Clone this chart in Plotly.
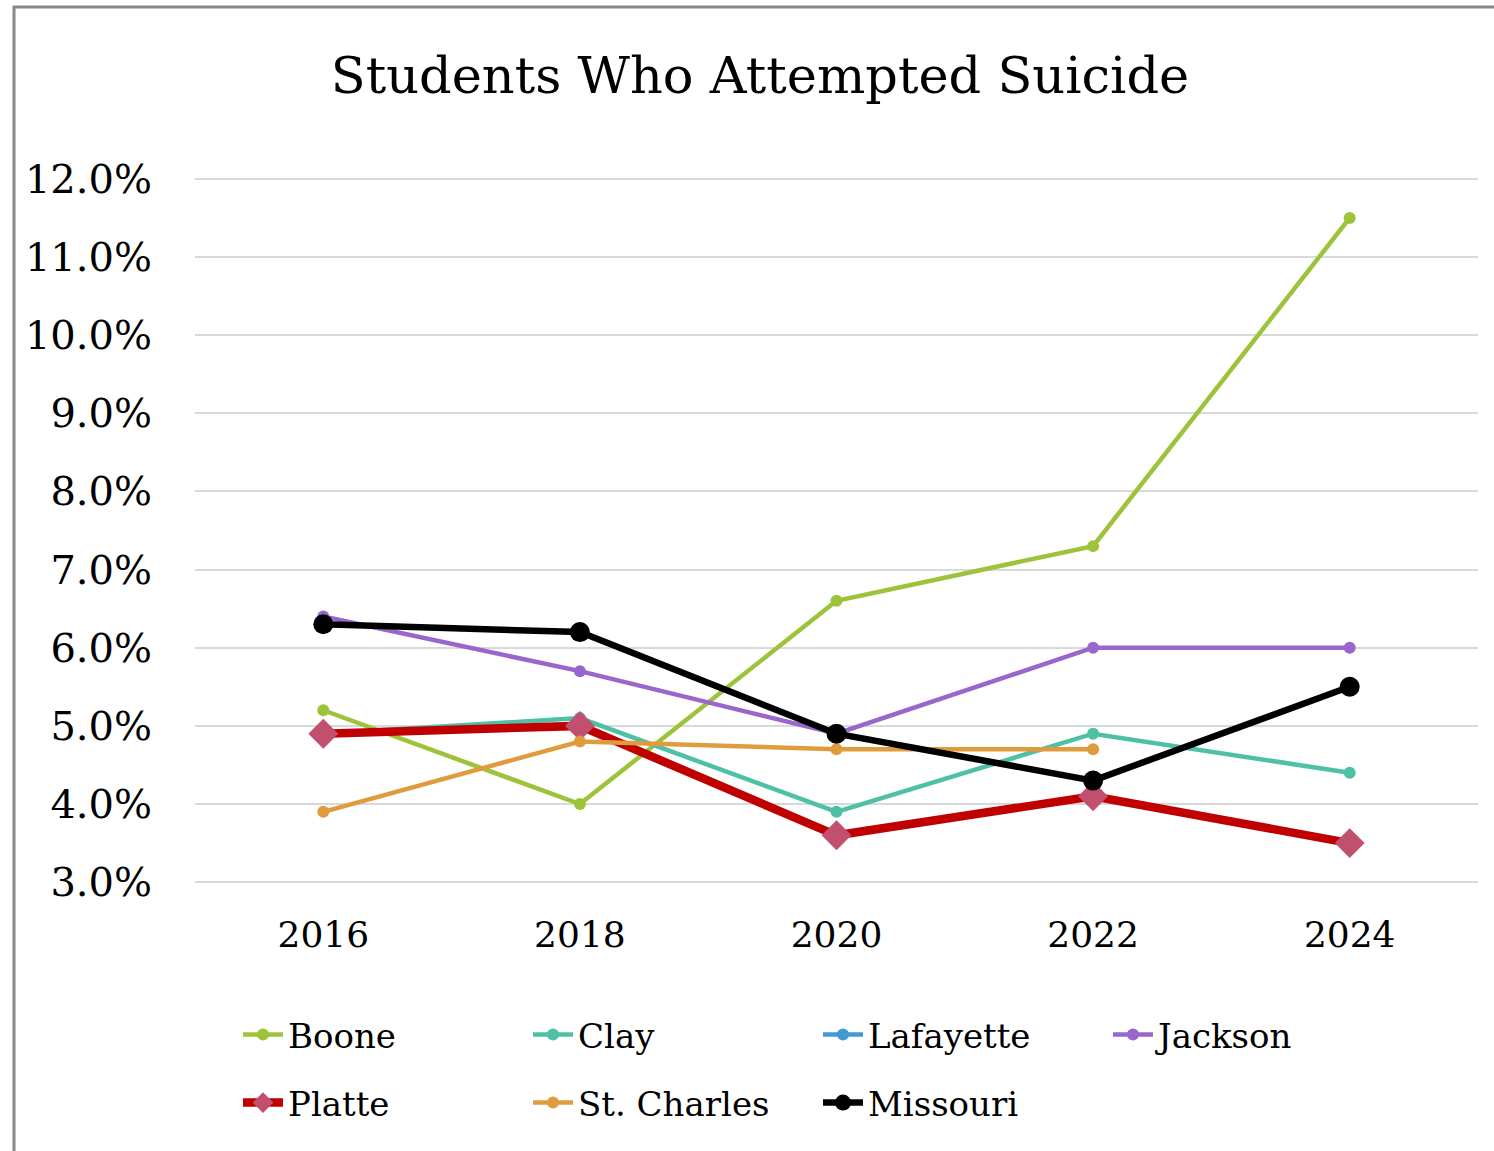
import plotly.graph_objects as go

years = ["2016", "2018", "2020", "2022", "2024"]
boone = [5.2, 4.0, 6.6, 7.3, 11.5]
clay = [4.9, 5.1, 3.9, 4.9, 4.4]
lafayette = [None, None, None, None, None]
jackson = [6.4, 5.7, 4.9, 6.0, 6.0]
platte = [4.9, 5.0, 3.6, 4.1, 3.5]
st_charles = [3.9, 4.8, 4.7, 4.7, None]
missouri = [6.3, 6.2, 4.9, 4.3, 5.5]
y_ticks = [3, 4, 5, 6, 7, 8, 9, 10, 11, 12]

FONT = "DejaVu Serif"

# name, values, line colour, line width, marker symbol, marker size, marker colour, legend
series = [
    ("Boone", boone, "#9DC33B", 4.5, "circle", 12, "#9DC33B", "legend"),
    ("Clay", clay, "#4EC0A6", 4.5, "circle", 12, "#4EC0A6", "legend"),
    ("Lafayette", lafayette, "#4499D4", 4.5, "circle", 12, "#4499D4", "legend"),
    ("Jackson", jackson, "#9966CC", 4.5, "circle", 12, "#9966CC", "legend"),
    ("Platte", platte, "#C00000", 8.5, "diamond", 23, "#C0506E", "legend2"),
    ("St. Charles", st_charles, "#E09C3C", 4.5, "circle", 12, "#E09C3C", "legend2"),
    ("Missouri", missouri, "#000000", 6.5, "circle", 20, "#000000", "legend2"),
]

fig = go.Figure()
for name, vals, col, lw, sym, ms, mcol, lg in series:
    fig.add_trace(go.Scatter(
        x=years, y=[v / 100 if v is not None else None for v in vals],
        name=name, mode="lines+markers",
        line=dict(color=col, width=lw),
        marker=dict(symbol=sym, size=ms, color=mcol, line=dict(width=0)),
        connectgaps=False, legend=lg,
    ))

W, H = 1494, 1151
L, R, T, B = 195, 16, 171, 261
pw = W - L - R
ph = H - T - B


def px_x(x):
    return (x - L) / pw


def px_y(y):
    return (H - B - y) / ph


leg_common = dict(orientation="h", xanchor="left", yanchor="middle",
                  entrywidth=235, entrywidthmode="pixels", traceorder="normal",
                  font=dict(family=FONT, size=34, color="#000000"),
                  itemwidth=40, bgcolor="rgba(0,0,0,0)")

fig.update_layout(
    width=W, height=H,
    margin=dict(l=L, r=R, t=T, b=B),
    paper_bgcolor="white", plot_bgcolor="white",
    font=dict(family=FONT, color="#000000"),
    title=dict(text="Students Who Attempted Suicide", x=760 / W, xanchor="center",
               y=1 - 75 / H, yanchor="middle", xref="container", yref="container",
               font=dict(family=FONT, size=51, color="#000000")),
    xaxis=dict(type="category", range=[-0.5, 4.5], showgrid=False, zeroline=False,
               showline=False, ticks="",
               tickfont=dict(family=FONT, size=36, color="#000000"),
               ticklabelstandoff=20),
    yaxis=dict(range=[0.029, 0.121], tickvals=[t / 100 for t in y_ticks],
               tickformat=".1%", showgrid=True, gridcolor="#D9D9D9", gridwidth=1.5,
               zeroline=False, showline=False, ticks="",
               tickfont=dict(family=FONT, size=40, color="#000000"),
               ticklabelstandoff=42),
    legend=dict(x=px_x(238), y=px_y(1035), **leg_common),
    legend2=dict(x=px_x(238), y=px_y(1103), **leg_common),
    showlegend=True,
    shapes=[
        dict(type="line", xref="paper", yref="paper", x0=px_x(14), x1=px_x(14),
             y0=px_y(6), y1=px_y(H + 5), line=dict(color="#888888", width=3), layer="above"),
        dict(type="line", xref="paper", yref="paper", x0=px_x(13), x1=px_x(W + 5),
             y0=px_y(7), y1=px_y(7), line=dict(color="#888888", width=3), layer="above"),
    ],
)

fig.write_html("out.html", config={"displayModeBar": False},
               post_script="document.body.style.margin='0';document.body.style.overflow='hidden';")
